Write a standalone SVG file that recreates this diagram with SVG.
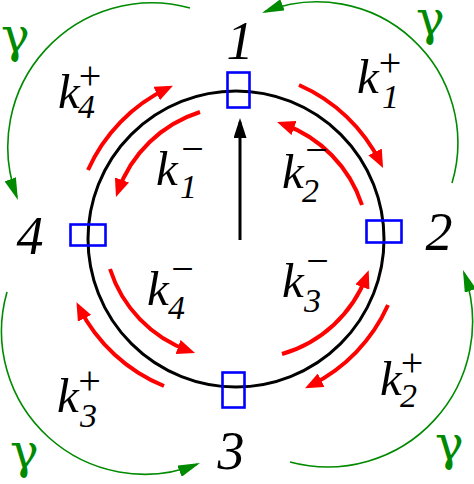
<svg xmlns="http://www.w3.org/2000/svg" width="474" height="484" viewBox="0 0 474 484">
<defs>
<style>
.red{fill:none;stroke:#ff0000;stroke-width:4;marker-end:url(#ar)}
.grn{fill:none;stroke:#008a00;stroke-width:1.6;marker-end:url(#ag)}
.box{fill:none;stroke:#0000ff;stroke-width:2.6}
.num{font-family:"Liberation Serif",serif;font-style:italic;font-size:54px;fill:#000;text-anchor:middle}
.k{font-family:"Liberation Serif",serif;font-style:italic;font-size:49px;fill:#000}
.sub{font-family:"Liberation Serif",serif;font-style:italic;font-size:34px;fill:#000}
.sup{font-family:"Liberation Serif",serif;font-size:40px;fill:#000;text-anchor:middle}
.gam{font-family:"DejaVu Serif",serif;font-size:48px;fill:#008a00}
</style>
<marker id="ar" markerUnits="userSpaceOnUse" markerWidth="18" markerHeight="15" viewBox="0 0 18 15" refX="12" refY="7.5" orient="auto"><path d="M0,0 L18,7.5 L0,15 z" fill="#ff0000"/></marker>
<marker id="ag" markerUnits="userSpaceOnUse" markerWidth="22" markerHeight="12" viewBox="0 0 22 12" refX="19" refY="6" orient="auto"><path d="M0,0 L22,6 L0,12 z" fill="#008a00"/></marker>
<marker id="ab" markerUnits="userSpaceOnUse" markerWidth="20" markerHeight="13" viewBox="0 0 20 13" refX="16" refY="6.5" orient="auto"><path d="M0,0 L20,6.5 L0,13 z" fill="#000"/></marker>
</defs>
<rect width="474" height="484" fill="#fff"/>
<circle cx="236" cy="239" r="148" fill="none" stroke="#000" stroke-width="3"/>
<g id="connectors">
<path class="red" d="M299,85 A165,165 0 0 1 380.4,162.6"/>
<path class="red" d="M362,205 A128,128 0 0 0 282.7,124"/>
<path class="red" d="M88,170 A165,165 0 0 1 167.5,88.3"/>
<path class="red" d="M200,112 A128,128 0 0 0 118,191.3"/>
<path class="red" d="M110,269 A128,128 0 0 0 189.4,351"/>
<path class="red" d="M164,386 A165,165 0 0 1 79.2,307.6"/>
<path class="red" d="M282,354 A128,128 0 0 0 366.6,275.8"/>
<path class="red" d="M388,305 A165,165 0 0 1 310.4,385.5"/>
<path class="grn" d="M452,183 A141,141 0 0 0 264.8,11.8"/>
<path class="grn" d="M190,8 A144,144 0 0 0 16.9,197.2"/>
<path class="grn" d="M7,292 A143,143 0 0 0 197.2,464.2"/>
<path class="grn" d="M290,462 A145,145 0 0 0 464,272.8"/>
<path d="M240,240 L240,122" fill="none" stroke="#000" stroke-width="3" marker-end="url(#ab)"/>
</g>
<g id="node1"><rect class="box" x="227.5" y="72.5" width="22" height="35"/><text class="num" x="240" y="59">1</text></g>
<g id="node2"><rect class="box" x="366.5" y="220.5" width="35" height="22"/><text class="num" x="439" y="250">2</text></g>
<g id="node3"><rect class="box" x="222.5" y="372.5" width="22" height="35"/><text class="num" x="231" y="469">3</text></g>
<g id="node4"><rect class="box" x="70.5" y="224.5" width="35" height="21"/><text class="num" x="30" y="254">4</text></g>
<g id="labels">
<text class="k" x="357" y="93">k</text><text class="sup" x="390" y="76">+</text><text class="sub" x="382" y="108">1</text>
<text class="k" x="156" y="185">k</text><text class="sup" x="192.5" y="162">−</text><text class="sub" x="180" y="198">1</text>
<text class="k" x="282" y="188">k</text><text class="sup" x="316.5" y="163">−</text><text class="sub" x="302" y="202">2</text>
<text class="k" x="58" y="108">k</text><text class="sup" x="90" y="89">+</text><text class="sub" x="78" y="118">4</text>
<text class="k" x="147" y="305">k</text><text class="sup" x="182.5" y="282">−</text><text class="sub" x="168" y="319">4</text>
<text class="k" x="57" y="412">k</text><text class="sup" x="89.5" y="394">+</text><text class="sub" x="80" y="427">3</text>
<text class="k" x="282" y="297">k</text><text class="sup" x="317.5" y="274">−</text><text class="sub" x="304" y="312">3</text>
<text class="k" x="380" y="395">k</text><text class="sup" x="412" y="376">+</text><text class="sub" x="400" y="407">2</text>
<text class="gam" x="416" y="35">γ</text>
<text class="gam" x="1" y="52">γ</text>
<text class="gam" x="10" y="468">γ</text>
<text class="gam" x="435" y="460">γ</text>
</g>
</svg>
